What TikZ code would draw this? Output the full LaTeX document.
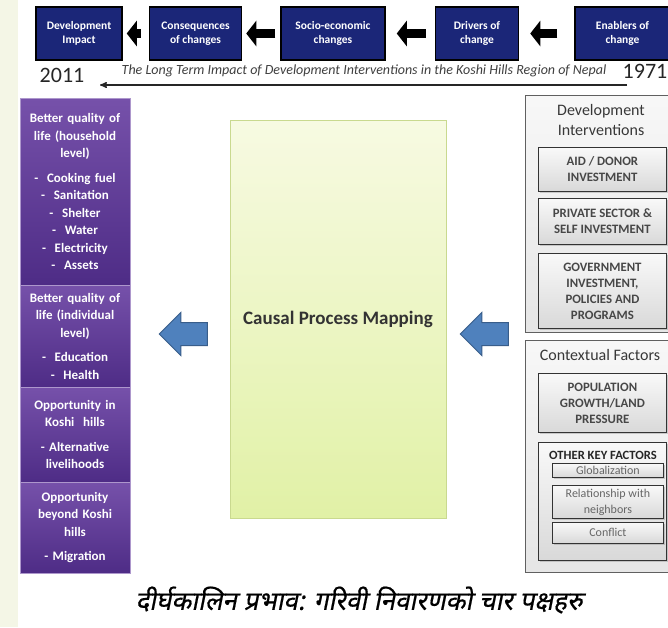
\documentclass[tikz,border=0pt]{standalone}
\usepackage{fontspec}
\setmainfont{Carlito}
\newfontfamily\devfont[Script=Devanagari,FakeSlant=0.2,FakeBold=0.6]{Noto Sans}
\usepackage{tikz}
\usetikzlibrary{arrows,arrows.meta,positioning,shapes.arrows,shadows}

\definecolor{navy}{HTML}{1B2678}
\definecolor{purptop}{HTML}{7651AA}
\definecolor{purpbot}{HTML}{4E2C86}
\definecolor{limetop}{HTML}{F7FAE2}
\definecolor{limebot}{HTML}{E1F1A6}
\definecolor{limeedge}{HTML}{C9D98F}
\definecolor{arrowblue}{HTML}{4F81BD}
\definecolor{arrowedge}{HTML}{385D8A}
\definecolor{cream}{HTML}{F4F6E6}

\begin{document}
\begin{tikzpicture}[x=1pt, y=-1pt, >=stealth',
    topbox/.style={draw=black, line width=1.5pt, fill=navy, text=white,
        font=\bfseries\fontsize{11.5}{14}\selectfont, align=center,
        minimum height=53pt, inner sep=2pt},
    blockarrow/.style={line width=9pt, -{Triangle[length=10pt,width=25pt]}},
    purplebox/.style={draw=purptop!60!white, line width=0.6pt,
        top color=purptop, bottom color=purpbot, text=white,
        font=\bfseries\fontsize{13}{17.5}\selectfont, align=center,
        minimum width=110pt, text width=106pt, inner sep=0pt},
    bluearrow/.style={single arrow, draw=arrowedge, line width=1pt, fill=arrowblue,
        shape border rotate=180, minimum height=48pt, inner sep=11pt,
        minimum width=42pt, single arrow head extend=10pt},
    panel/.style={draw=gray!75!black, line width=0.8pt, top color=gray!6,
        bottom color=gray!20, anchor=north west, inner sep=0pt},
    graybox/.style={draw=gray!40!black, line width=0.8pt, top color=gray!5,
        bottom color=gray!30, drop shadow={shadow xshift=1.5pt, shadow yshift=-1.5pt, opacity=0.35},
        font=\bfseries\fontsize{12.8}{16}\selectfont, text=black!72, align=center,
        anchor=north west, inner sep=0pt},
    smallbox/.style={graybox, font=\fontsize{12}{16}\selectfont, text=black!60}]

    \useasboundingbox (0,0) rectangle (668,627);
    \clip (0,0) rectangle (668,627);
    \fill[white] (0,0) rectangle (668,627);
    \fill[cream] (0,0) rectangle (18,627);

    % Top row {impact, conseq, socio, drivers, enablers}
    \node [topbox, minimum width=86pt] (impact)   at (79,33.5) {Development\\Impact};
    \node [topbox, minimum width=92pt] (conseq)   [right=26pt of impact]  {Consequences\\of changes};
    \node [topbox, minimum width=104pt] (socio)   [right=38pt of conseq]  {Socio-economic\\changes};
    \node [topbox, minimum width=83pt] (drivers)  [right=49pt of socio]   {Drivers of\\change};
    \node [topbox, minimum width=95pt] (enablers) [right=55pt of drivers] {Enablers of\\change};

    % Time line
    \node [text=black!85] (y2011) at (62,75) {\fontsize{22}{24}\selectfont 2011};
    \node [text=black!85] (y1971) at (645,71) {\fontsize{22}{24}\selectfont 1971};
    \node [text=black!75] (title) at (364,71)
        {\itshape\fontsize{14}{16}\selectfont The Long Term Impact of Development Interventions in the Koshi Hills Region of Nepal};
    \coordinate (tstart) at (627,85);
    \coordinate (tend)   at (100,85);

    % Outcomes column
    \node [purplebox, minimum height=187pt] (household) at (75,191.5)
        {Better quality of\\life (household\\level)\\[7pt]
         -\ \ Cooking fuel\\-\ \ Sanitation\\-\ \ Shelter\\-\ \ Water\\-\ \ Electricity\\-\ \ Assets};
    \node [purplebox, minimum height=102pt] (individual) at (75,336)
        {Better quality of\\life (individual\\level)\\[7pt]
         -\ \ Education\\-\ \ Health};
    \node [purplebox, minimum height=95pt] (inkoshi) at (75,434.5)
        {Opportunity in\\Koshi\ \ hills\\[7pt]
         - Alternative\\livelihoods};
    \node [purplebox, minimum height=91pt] (beyond) at (75,527.5)
        {Opportunity\\beyond Koshi\\hills\\[7pt]
         - Migration};

    % Middle
    \node [draw=limeedge, line width=0.8pt, top color=limetop, bottom color=limebot,
           minimum width=216pt, minimum height=398pt,
           font=\bfseries\fontsize{19}{22}\selectfont, text=black!80] (causal) at (338,319)
        {Causal Process Mapping};
    \node [bluearrow] (outarrow) at (189,334) {};
    \node [bluearrow] (inarrow)  at (490,334) {};

    % Development interventions
    \node [panel, minimum width=150pt, minimum height=237pt] (devint) at (525,95) {};
    \node [font=\fontsize{16}{20}\selectfont, text=black!78, align=center] (devtitle) at (601,120)
        {Development\\Interventions};
    \node [graybox, minimum width=128pt, minimum height=44pt] (aid) at (538,147)
        {AID / DONOR\\INVESTMENT};
    \node [graybox, minimum width=128pt, minimum height=46pt] (private) at (538,198)
        {PRIVATE SECTOR \&\\SELF INVESTMENT};
    \node [graybox, minimum width=128pt, minimum height=75pt] (govt) at (538,253)
        {GOVERNMENT\\INVESTMENT,\\POLICIES AND\\PROGRAMS};

    % Contextual factors
    \node [panel, minimum width=150pt, minimum height=232pt] (context) at (525,340) {};
    \node [font=\fontsize{16}{18}\selectfont, text=black!78] (ctxtitle) at (600,355)
        {Contextual Factors};
    \node [graybox, minimum width=128pt, minimum height=59pt] (population) at (538,373)
        {POPULATION\\GROWTH/LAND\\PRESSURE};
    \node [graybox, minimum width=128pt, minimum height=118pt] (otherkey) at (538,442) {};
    \node [font=\bfseries\fontsize{12.6}{14}\selectfont, text=black!85] (othertitle) at (603,455)
        {OTHER KEY FACTORS};
    \node [smallbox, minimum width=111pt, minimum height=14pt] (global) at (552,463)
        {Globalization};
    \node [smallbox, minimum width=111pt, minimum height=33pt] (neighbors) at (552,485)
        {Relationship with\\neighbors};
    \node [smallbox, minimum width=111pt, minimum height=21pt] (conflict) at (552,522)
        {Conflict};

    % Caption
    \node (caption) at (359,600) {\devfont\fontsize{26}{28}\selectfont दीर्घकालिन प्रभाव: गरिवी निवारणको चार पक्षहरु};

    % Paths
    \draw [blockarrow, shorten <=8pt,  shorten >=4pt]  (conseq)   -- (impact);
    \draw [blockarrow, shorten <=5pt,  shorten >=4pt]  (socio)    -- (conseq);
    \draw [blockarrow, shorten <=9pt,  shorten >=11pt] (drivers)  -- (socio);
    \draw [blockarrow, shorten <=17pt, shorten >=11pt] (enablers) -- (drivers);
    \draw [->, line width=1.4pt, black!85] (tstart) -- (tend);

\end{tikzpicture}
\end{document}
